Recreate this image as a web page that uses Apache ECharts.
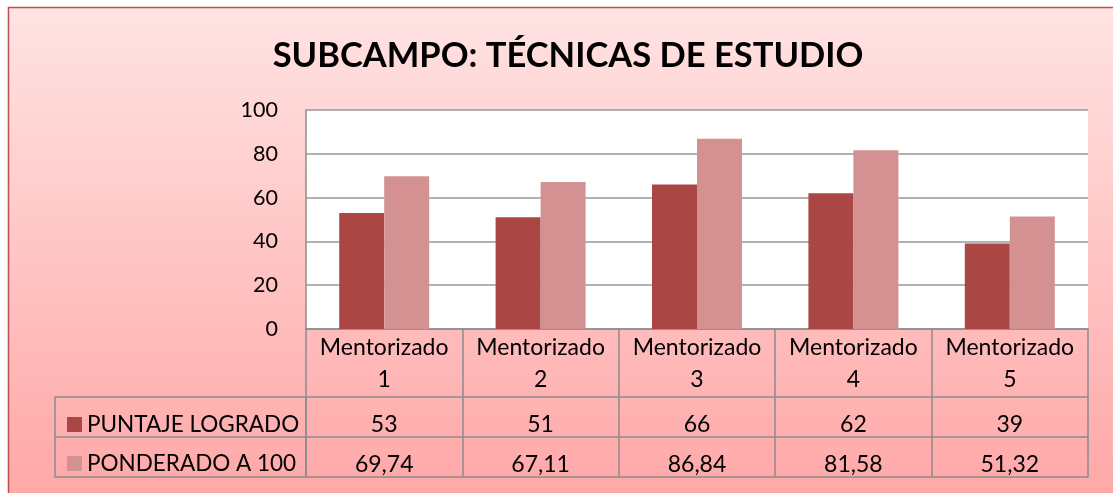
<!DOCTYPE html>
<html>
<head>
<meta charset="utf-8">
<script src="https://cdn.jsdelivr.net/npm/echarts@6/dist/echarts.min.js"></script>
<style>
  html, body { margin: 0; padding: 0; background: #fff; }
  #chart { width: 1113px; height: 493px; }
</style>
</head>
<body>
<div id="chart"></div>
<script>
const categories = ["Mentorizado\n1", "Mentorizado\n2", "Mentorizado\n3", "Mentorizado\n4", "Mentorizado\n5"];
const seriesNames = ["PUNTAJE LOGRADO", "PONDERADO A 100"];
const puntaje = [53, 51, 66, 62, 39];
const ponderado = [69.74, 67.11, 86.84, 81.58, 51.32];
const yTicks = { min: 0, max: 100, interval: 20 };

const FONT = "Lato, 'Noto Sans', sans-serif";
const LINE = "#8c8c8c";

// table rows are shown with a decimal comma, like the source sheet
function fmt(v) {
  return Number.isInteger(v) ? String(v) : v.toFixed(2).replace(".", ",");
}

const chart = echarts.init(document.getElementById("chart"));

function tableAxis(values, offset) {
  return {
    type: "category",
    gridIndex: 0,
    position: "bottom",
    offset: offset,
    data: values.map(fmt),
    axisLine: { show: true, lineStyle: { color: LINE, width: 1.5 } },
    axisTick: { show: false },
    axisLabel: {
      show: true,
      color: "#000",
      fontFamily: FONT,
      fontSize: 23,
      margin: 16,
      interval: 0,
    },
  };
}

chart.setOption({
  backgroundColor: "#fff",
  animation: false,
  title: {
    text: "SUBCAMPO: TÉCNICAS DE ESTUDIO",
    left: 563,
    textAlign: "center",
    top: 33,
    textStyle: {
      color: "#000",
      fontFamily: FONT,
      fontSize: 34.5,
      fontWeight: "bold",
    },
  },
  legend: {
    orient: "vertical",
    left: 62,
    top: 408,
    itemWidth: 15,
    itemHeight: 15,
    itemGap: 16,
    icon: "rect",
    data: seriesNames,
    textStyle: { color: "#000", fontFamily: FONT, fontSize: 22.5 },
    selectedMode: false,
  },
  graphic: [
    {
      type: "rect",
      z: -10,
      silent: true,
      shape: { x: 8.5, y: 7.5, width: 1120, height: 500 },
      style: {
        fill: new echarts.graphic.LinearGradient(0, 0, 0, 1, [
          { offset: 0, color: "#ffe3e3" },
          { offset: 1, color: "#ffa6a6" },
        ]),
        stroke: "#c0504d",
        lineWidth: 1.5,
      },
    },
    {
      type: "rect",
      silent: true,
      shape: { x: 55, y: 397, width: 251, height: 80 },
      style: { fill: "none", stroke: LINE, lineWidth: 1.5 },
    },
    {
      type: "line",
      silent: true,
      shape: { x1: 55, y1: 437, x2: 306, y2: 437 },
      style: { stroke: LINE, lineWidth: 1.5 },
    },
  ],
  grid: {
    left: 306,
    right: 25,
    top: 110,
    bottom: 164,
    show: true,
    backgroundColor: "#fff",
    borderWidth: 0,
  },
  xAxis: [
    {
      type: "category",
      data: categories,
      axisLine: { lineStyle: { color: LINE, width: 1.5 } },
      axisTick: { show: true, length: 148, lineStyle: { color: LINE, width: 1.5 } },
      axisLabel: {
        color: "#000",
        fontFamily: FONT,
        fontSize: 23,
        lineHeight: 32,
        margin: 3,
        interval: 0,
      },
    },
    tableAxis(puntaje, 68),
    tableAxis(ponderado, 108),
    {
      type: "category",
      position: "bottom",
      offset: 148,
      data: categories,
      axisLine: { show: true, lineStyle: { color: LINE, width: 1.5 } },
      axisTick: { show: false },
      axisLabel: { show: false },
    },
  ],
  yAxis: {
    type: "value",
    min: yTicks.min,
    max: yTicks.max,
    interval: yTicks.interval,
    axisLine: { show: true, lineStyle: { color: LINE, width: 1.5 } },
    axisTick: { show: false },
    splitLine: { lineStyle: { color: "#999", width: 1.5 } },
    axisLabel: { color: "#000", fontFamily: FONT, fontSize: 21.5, margin: 28 },
  },
  series: [
    {
      name: seriesNames[0],
      type: "bar",
      data: puntaje,
      barWidth: 45,
      barGap: "0%",
      itemStyle: { color: "#aa4745" },
    },
    {
      name: seriesNames[1],
      type: "bar",
      data: ponderado,
      barWidth: 45,
      itemStyle: { color: "#d39291" },
    },
  ],
});
</script>
</body>
</html>
